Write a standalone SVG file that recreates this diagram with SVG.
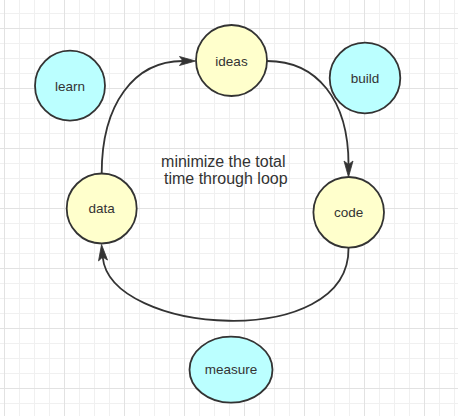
<svg xmlns="http://www.w3.org/2000/svg" width="458" height="416" viewBox="0 0 458 416">
  <style>
    .yellow { fill: #ffffcc; stroke: #333333; stroke-width: 1.8; }
    .cyan { fill: #bbffff; stroke: #333333; stroke-width: 1.8; }
    .label { font-family: "Liberation Sans", Arial, sans-serif; font-size: 13.5px; fill: #333333; text-anchor: middle; }
    .note { font-family: "Liberation Sans", Arial, sans-serif; font-size: 16px; fill: #333333; text-anchor: middle; }
    .edge { fill: none; stroke: #333333; stroke-width: 1.8; }
  </style>
  <defs>
    <pattern id="grid" patternUnits="userSpaceOnUse" x="4" y="28" width="60" height="60">
      <path d="M15.5,0V60M30.5,0V60M45.5,0V60M0,15.5H60M0,30.5H60M0,45.5H60" stroke="#f0f0f0" stroke-width="1" fill="none"/>
      <path d="M0.5,0V60M0,0.5H60" stroke="#e2e2e2" stroke-width="1" fill="none"/>
    </pattern>
    <marker id="arrow" markerUnits="userSpaceOnUse" markerWidth="17" markerHeight="10" refX="3.5" refY="4.5" orient="auto" overflow="visible">
      <path d="M0,0L16,4.5L0,9L3.5,4.5Z" fill="#333333" stroke="#333333" stroke-width="0.8" stroke-linejoin="miter"/>
    </marker>
  </defs>
  <rect width="458" height="416" fill="#ffffff"/>
  <rect width="458" height="416" fill="url(#grid)"/>

  <g id="connectors">
    <path class="edge" d="M101.7,173.5C101.7,104 134,61 183,61" marker-end="url(#arrow)"/>
    <path class="edge" d="M267,61C317,61 348.5,100 348.5,164.5" marker-end="url(#arrow)"/>
    <path class="edge" d="M348.5,248C350,352 110,335 102.7,257" marker-end="url(#arrow)"/>
  </g>

  <g id="learn">
    <circle class="cyan" cx="70" cy="85.7" r="35"/>
    <text class="label" x="70" y="90.5">learn</text>
  </g>
  <g id="ideas">
    <circle class="yellow" cx="231.5" cy="60.5" r="35.5"/>
    <text class="label" x="231.5" y="65.5">ideas</text>
  </g>
  <g id="build">
    <circle class="cyan" cx="365" cy="78" r="35.3"/>
    <text class="label" x="365" y="83">build</text>
  </g>
  <g id="data">
    <circle class="yellow" cx="101.7" cy="208.5" r="35"/>
    <text class="label" x="101.7" y="213.3">data</text>
  </g>
  <g id="code">
    <circle class="yellow" cx="348.7" cy="212.3" r="35.3"/>
    <text class="label" x="348.7" y="217.2">code</text>
  </g>
  <g id="measure">
    <ellipse class="cyan" cx="231" cy="369.7" rx="41.5" ry="33"/>
    <text class="label" x="231" y="374.4">measure</text>
  </g>
  <g id="note">
    <text class="note" x="223.3" y="166.7">minimize the total</text>
    <text class="note" x="225.8" y="184.3">time through loop</text>
  </g>
</svg>
